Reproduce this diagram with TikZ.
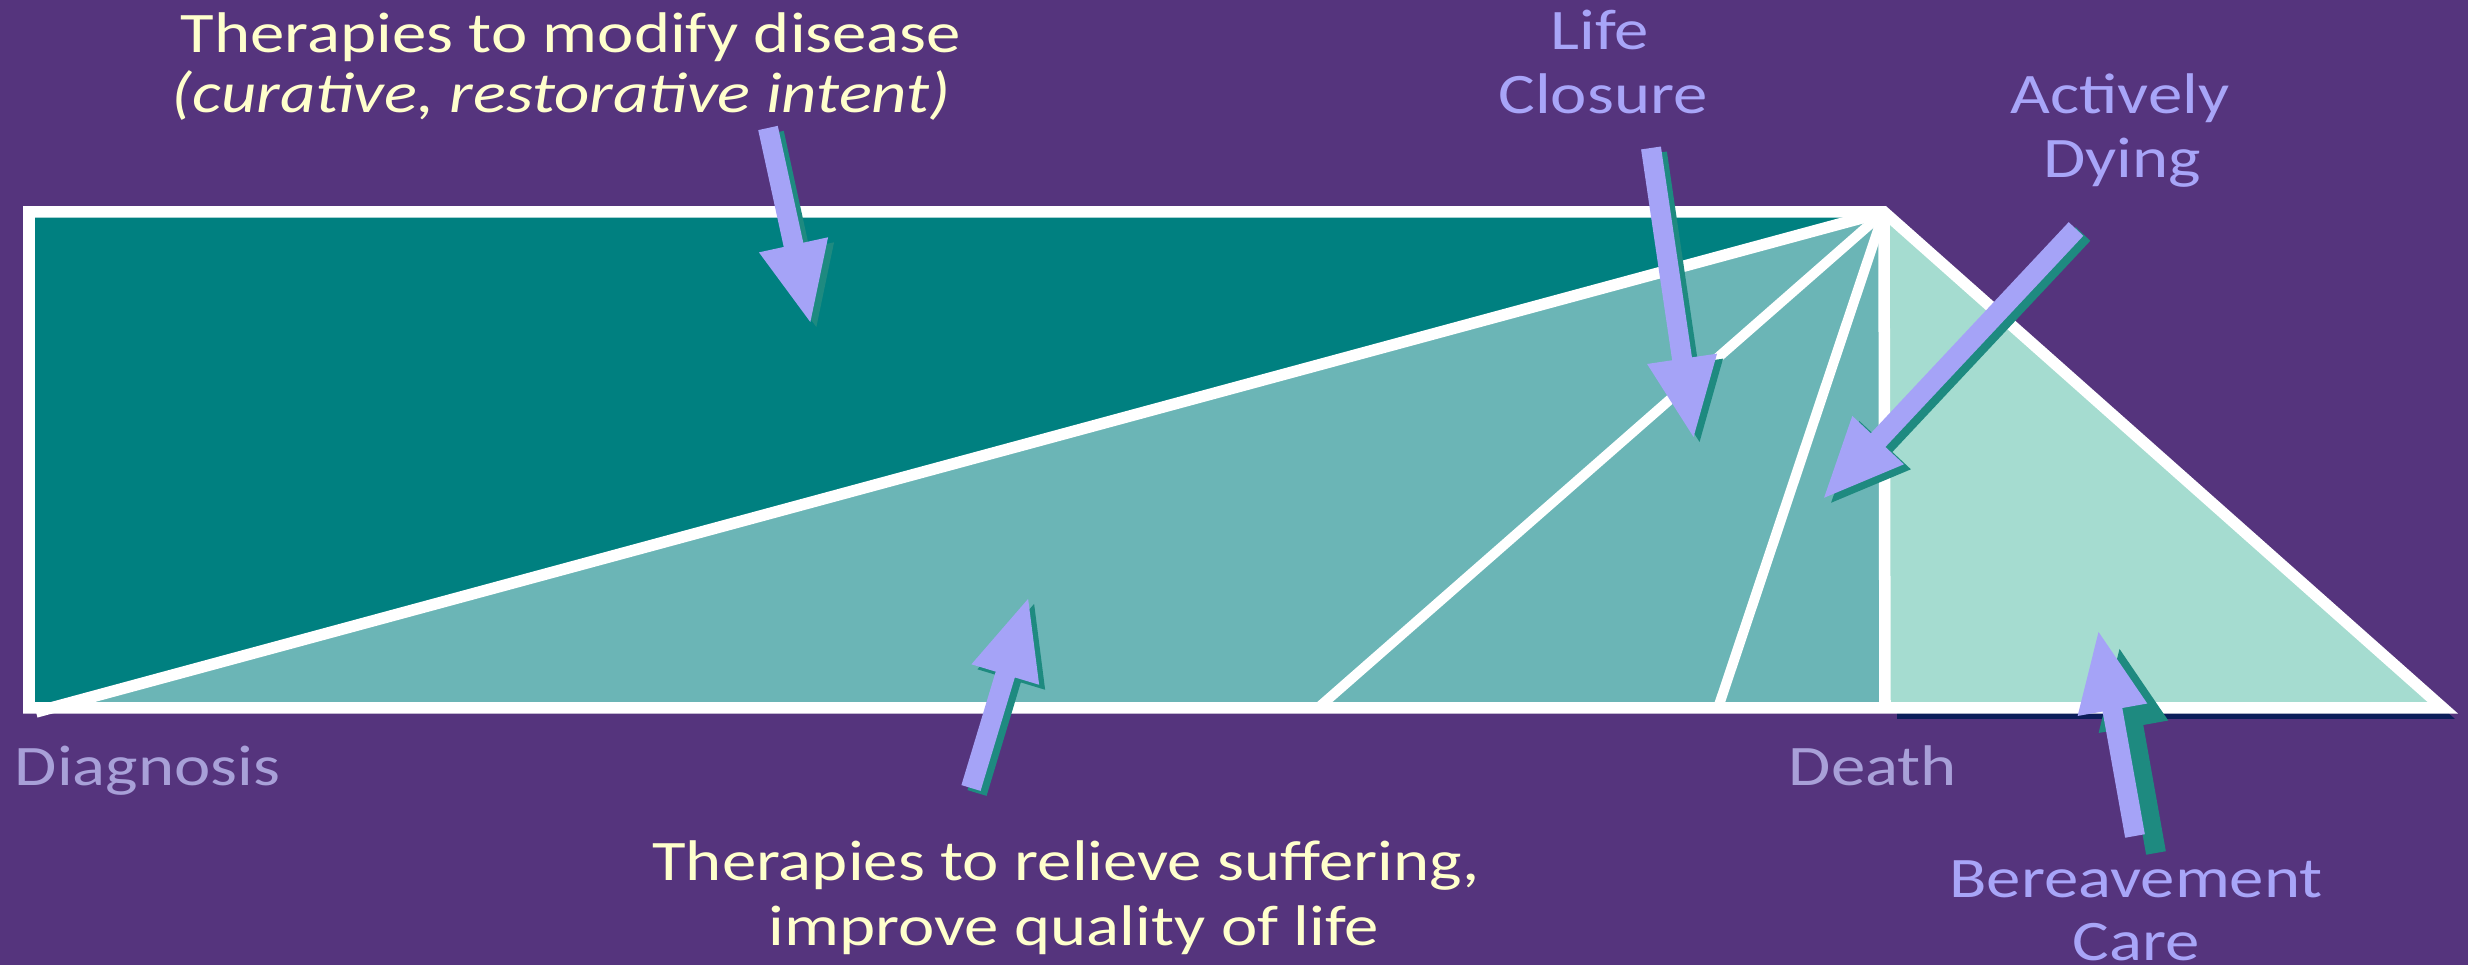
\documentclass[tikz,border=0pt]{standalone}
\usepackage{fontspec}
\setmainfont{Carlito}
\usetikzlibrary{arrows.meta}
\definecolor{bgpurple}{RGB}{85,52,125}
\definecolor{tealdark}{RGB}{0,128,128}
\definecolor{tealmid}{RGB}{107,181,182}
\definecolor{teallight}{RGB}{165,220,208}
\definecolor{navy}{RGB}{12,30,90}
\definecolor{lav}{RGB}{165,163,247}
\definecolor{lavshadow}{RGB}{30,138,128}
\definecolor{cream}{RGB}{255,255,204}
\definecolor{labbright}{RGB}{168,165,248}
\definecolor{labgray}{RGB}{168,160,216}
\newcommand\wtxt[1]{\scalebox{1.2}[1]{#1}}
\tikzset{
  wline/.style={draw=white, line width=0.115cm, line join=miter},
  thinline/.style={draw=white, line width=0.1cm},
  blockarr/.style={draw=lav, line width=0.2cm, -{Triangle[width=0.64cm,length=0.82cm]}},
  blockshadow/.style={draw=lavshadow, line width=0.2cm, -{Triangle[width=0.64cm,length=0.82cm]}},
  lbl/.style={inner sep=0pt, anchor=base, font=\fontsize{16.3}{18}\selectfont},
}
\begin{document}
\begin{tikzpicture}[x=0.01cm, y=-0.01cm]
\fill[bgpurple] (0,0) rectangle (2468,965);
\useasboundingbox (0,0) rectangle (2468,965);
% corners
\coordinate (TL) at (29,212);
\coordinate (BL) at (29,708);
\coordinate (DS) at (36,712);
\coordinate (AP) at (1884,212);
\coordinate (DB) at (1885,708);
\coordinate (BR) at (2443,708);
\coordinate (L2) at (1318,708);
\coordinate (L3) at (1718,708);
% shadow of right triangle
\fill[navy] ([shift={(12,11)}]AP) -- ([shift={(12,11)}]BR) -- ([shift={(12,11)}]DB) -- cycle;
% fills
\fill[tealdark] (TL) -- (AP) -- (BL) -- cycle;
\fill[tealmid] (DS) -- (AP) -- (DB) -- cycle;
\fill[teallight] (AP) -- (BR) -- (DB) -- cycle;
% white lines
\draw[wline] (BL) -- (TL) -- (AP) -- (BR) -- cycle;
\draw[wline] (AP) -- (DB);
\draw[wline] (DS) -- (AP);
\draw[thinline] (L2) -- (AP);
\draw[thinline] (L3) -- (AP);
% arrows
\coordinate (a1t) at (768,128);  \coordinate (a1h) at (811,325);
\coordinate (a2t) at (1651,148); \coordinate (a2h) at (1694,440);
\coordinate (a3t) at (2076,229); \coordinate (a3h) at (1822,500);
\coordinate (a4t) at (971,788);  \coordinate (a4h) at (1029,596);
\coordinate (a5t) at (2135,836); \coordinate (a5h) at (2098,629);
\draw[blockshadow] ([shift={(6,5)}]a1t) -- ([shift={(6,5)}]a1h);
\draw[blockarr] (a1t) -- (a1h);
\draw[blockshadow] ([shift={(6,5)}]a2t) -- ([shift={(6,5)}]a2h);
\draw[blockarr] (a2t) -- (a2h);
\draw[blockshadow] ([shift={(7,5)}]a3t) -- ([shift={(7,5)}]a3h);
\draw[blockarr] (a3t) -- (a3h);
\draw[blockshadow] ([shift={(6,5)}]a4t) -- ([shift={(6,5)}]a4h);
\draw[blockarr] (a4t) -- (a4h);
\draw[blockshadow] ([shift={(21,17)}]a5t) -- ([shift={(21,17)}]a5h);
\draw[blockarr] (a5t) -- (a5h);
% texts
\node[lbl, text=cream] (mod1) at (571,53) {\wtxt{Therapies to modify disease}};
\node[lbl, text=cream] (mod2) at (561,113) {\wtxt{\itshape (curative, restorative intent)}};
\node[lbl, text=labbright] (lc1) at (1600,50) {\wtxt{Life}};
\node[lbl, text=labbright] (lc2) at (1603,114) {\wtxt{Closure}};
\node[lbl, text=labbright] (ad1) at (2120,114) {\wtxt{Actively}};
\node[lbl, text=labbright] (ad2) at (2122,178) {\wtxt{Dying}};
\node[lbl, text=labgray, anchor=base west] (diag) at (14,786) {\wtxt{Diagnosis}};
\node[lbl, text=labgray] (death) at (1873,786) {\wtxt{Death}};
\node[lbl, text=cream] (rel1) at (1066,881) {\wtxt{Therapies to relieve suffering,}};
\node[lbl, text=cream] (rel2) at (1074,946) {\wtxt{improve quality of life}};
\node[lbl, text=labbright] (ber1) at (2136,898) {\wtxt{Bereavement}};
\node[lbl, text=labbright] (ber2) at (2136,961) {\wtxt{Care}};
\end{tikzpicture}
\end{document}
